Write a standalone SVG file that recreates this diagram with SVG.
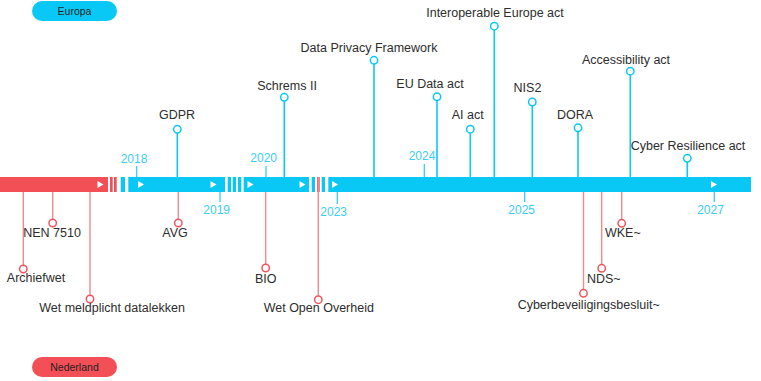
<svg xmlns="http://www.w3.org/2000/svg" width="761" height="381" viewBox="0 0 761 381">
<style>
.lbl{font-family:"Liberation Sans",Arial,sans-serif;font-size:12.5px;fill:#2d2d2d;text-anchor:middle}
.yr{font-family:"Liberation Sans",Arial,sans-serif;font-size:12px;fill:#3ccdf7;text-anchor:middle}
.pill{font-family:"Liberation Sans",Arial,sans-serif;font-size:10.5px;fill:#1f1f1f;text-anchor:middle}
.bl{stroke:#0ac8f5;stroke-width:1.6;fill:none}
.rl{stroke:#f3898e;stroke-width:1.4;fill:none}
.bc{fill:#fff;stroke:#0ac8f5;stroke-width:1.5}
.rc{fill:#fff;stroke:#f0555d;stroke-width:1.5}
.tk{stroke:#3ccdf7;stroke-width:1.3}
.blue{fill:#0ac8f5}
.red{fill:#f24f57}
.arr{fill:#fff}
</style>
<defs>
<polygon id="tri" points="0,-3.5 6,0 0,3.5"/>
</defs>
<g id="legend-europa"><rect x="32" y="1" width="85" height="20" rx="10" class="blue"/><text x="74.5" y="14.5" class="pill">Europa</text></g>
<g id="legend-nederland"><rect x="32" y="357" width="85" height="20" rx="10" class="red"/><text x="74.5" y="370.5" class="pill">Nederland</text></g>
<g id="timeline">
<rect x="0" y="177" width="108" height="15" class="red"/>
<rect x="110" y="177" width="2.7" height="15" class="red"/>
<rect x="114" y="177" width="2.7" height="15" class="red"/>
<rect x="120.7" y="177" width="4.3" height="15" class="blue"/>
<rect x="128.3" y="177" width="96.7" height="15" class="blue"/>
<rect x="227.7" y="177" width="3.3" height="15" class="blue"/>
<rect x="232.7" y="177" width="3.3" height="15" class="blue"/>
<rect x="238" y="177" width="3.3" height="15" class="blue"/>
<rect x="243.7" y="177" width="65.3" height="15" class="blue"/>
<rect x="311.7" y="177" width="3.3" height="15" class="blue"/>
<rect x="317" y="177" width="2.7" height="15" class="red"/>
<rect x="321.7" y="177" width="3.3" height="15" class="blue"/>
<rect x="328.3" y="177" width="422.7" height="15" class="blue"/>
<use href="#tri" x="97.5" y="184.5" class="arr"/>
<use href="#tri" x="138" y="184.5" class="arr"/>
<use href="#tri" x="210.5" y="184.5" class="arr"/>
<use href="#tri" x="247.5" y="184.5" class="arr"/>
<use href="#tri" x="299.5" y="184.5" class="arr"/>
<use href="#tri" x="332" y="184.5" class="arr"/>
<use href="#tri" x="711" y="184.5" class="arr"/>
</g>
<g id="years">
<line x1="136.7" y1="166" x2="136.7" y2="177" class="tk"/><text x="134" y="162.5" class="yr">2018</text>
<line x1="220" y1="192" x2="220" y2="202" class="tk"/><text x="216.7" y="214" class="yr">2019</text>
<line x1="266" y1="166" x2="266" y2="177" class="tk"/><text x="263.7" y="162" class="yr">2020</text>
<line x1="337.3" y1="192" x2="337.3" y2="204" class="tk"/><text x="333.7" y="215.7" class="yr">2023</text>
<line x1="424.3" y1="164" x2="424.3" y2="177" class="tk"/><text x="422" y="160" class="yr">2024</text>
<line x1="524.7" y1="192" x2="524.7" y2="202" class="tk"/><text x="521.7" y="214" class="yr">2025</text>
<line x1="714.3" y1="192" x2="714.3" y2="202" class="tk"/><text x="710.5" y="214" class="yr">2027</text>
</g>
<g id="connectors">
<line x1="177.3" y1="133" x2="177.3" y2="177" class="bl"/>
<line x1="284.3" y1="101" x2="284.3" y2="177" class="bl"/>
<line x1="374" y1="64" x2="374" y2="177" class="bl"/>
<line x1="437" y1="100.5" x2="437" y2="177" class="bl"/>
<line x1="470.3" y1="133" x2="470.3" y2="177" class="bl"/>
<line x1="494.3" y1="30" x2="494.3" y2="177" class="bl"/>
<line x1="532.3" y1="105.5" x2="532.3" y2="177" class="bl"/>
<line x1="578" y1="131.5" x2="578" y2="177" class="bl"/>
<line x1="630.3" y1="75" x2="630.3" y2="177" class="bl"/>
<line x1="687.3" y1="162" x2="687.3" y2="177" class="bl"/>
<line x1="23.3" y1="192" x2="23.3" y2="265.5" class="rl"/>
<line x1="52.7" y1="192" x2="52.7" y2="219.5" class="rl"/>
<line x1="90" y1="192" x2="90" y2="295.5" class="rl"/>
<line x1="178.3" y1="192" x2="178.3" y2="219.5" class="rl"/>
<line x1="265.7" y1="192" x2="265.7" y2="264.5" class="rl"/>
<line x1="318.3" y1="177" x2="318.3" y2="296" class="rl"/>
<line x1="583.5" y1="192" x2="583.5" y2="289.5" class="rl"/>
<line x1="601.7" y1="192" x2="601.7" y2="264.5" class="rl"/>
<line x1="621.7" y1="192" x2="621.7" y2="219.5" class="rl"/>
</g>
<g id="gdpr"><circle cx="177.3" cy="129.3" r="3.7" class="bc"/><text x="177" y="119" class="lbl">GDPR</text></g>
<g id="schrems"><circle cx="284.3" cy="97.3" r="3.7" class="bc"/><text x="287" y="89.5" class="lbl">Schrems II</text></g>
<g id="dpf"><circle cx="374" cy="60.3" r="3.7" class="bc"/><text x="369" y="51.7" class="lbl">Data Privacy Framework</text></g>
<g id="eudata"><circle cx="437" cy="96.8" r="3.7" class="bc"/><text x="430" y="87.7" class="lbl">EU Data act</text></g>
<g id="aiact"><circle cx="470.3" cy="129.2" r="3.7" class="bc"/><text x="467.7" y="119.3" class="lbl">AI act</text></g>
<g id="interop"><circle cx="494.3" cy="26.2" r="3.7" class="bc"/><text x="495" y="16.7" class="lbl">Interoperable Europe act</text></g>
<g id="nis2"><circle cx="532.3" cy="102" r="3.7" class="bc"/><text x="527.5" y="92.3" class="lbl">NIS2</text></g>
<g id="dora"><circle cx="578" cy="127.8" r="3.7" class="bc"/><text x="575" y="119.3" class="lbl">DORA</text></g>
<g id="access"><circle cx="630.3" cy="71.2" r="3.7" class="bc"/><text x="626" y="64" class="lbl">Accessibility act</text></g>
<g id="cra"><circle cx="687.3" cy="158.3" r="3.7" class="bc"/><text x="688" y="150" class="lbl">Cyber Resilience act</text></g>
<g id="archiefwet"><circle cx="23.3" cy="269" r="3.7" class="rc"/><text x="36" y="281.7" class="lbl">Archiefwet</text></g>
<g id="nen7510"><circle cx="52.7" cy="223" r="3.7" class="rc"/><text x="52" y="236.7" class="lbl">NEN 7510</text></g>
<g id="wmd"><circle cx="90" cy="299" r="3.7" class="rc"/><text x="112" y="312.3" class="lbl">Wet meldplicht datalekken</text></g>
<g id="avg"><circle cx="178.3" cy="223" r="3.7" class="rc"/><text x="175" y="236.7" class="lbl">AVG</text></g>
<g id="bio"><circle cx="265.7" cy="268" r="3.7" class="rc"/><text x="265.8" y="282.7" class="lbl">BIO</text></g>
<g id="woo"><circle cx="318.3" cy="299.7" r="3.7" class="rc"/><text x="318.8" y="312.3" class="lbl">Wet Open Overheid</text></g>
<g id="cbb"><circle cx="583.5" cy="293.3" r="3.7" class="rc"/><text x="588.7" y="309" class="lbl">Cyberbeveiligingsbesluit~</text></g>
<g id="nds"><circle cx="601.7" cy="268.3" r="3.7" class="rc"/><text x="603.8" y="283" class="lbl">NDS~</text></g>
<g id="wke"><circle cx="621.7" cy="223.3" r="3.7" class="rc"/><text x="622.8" y="237.3" class="lbl">WKE~</text></g>
</svg>
